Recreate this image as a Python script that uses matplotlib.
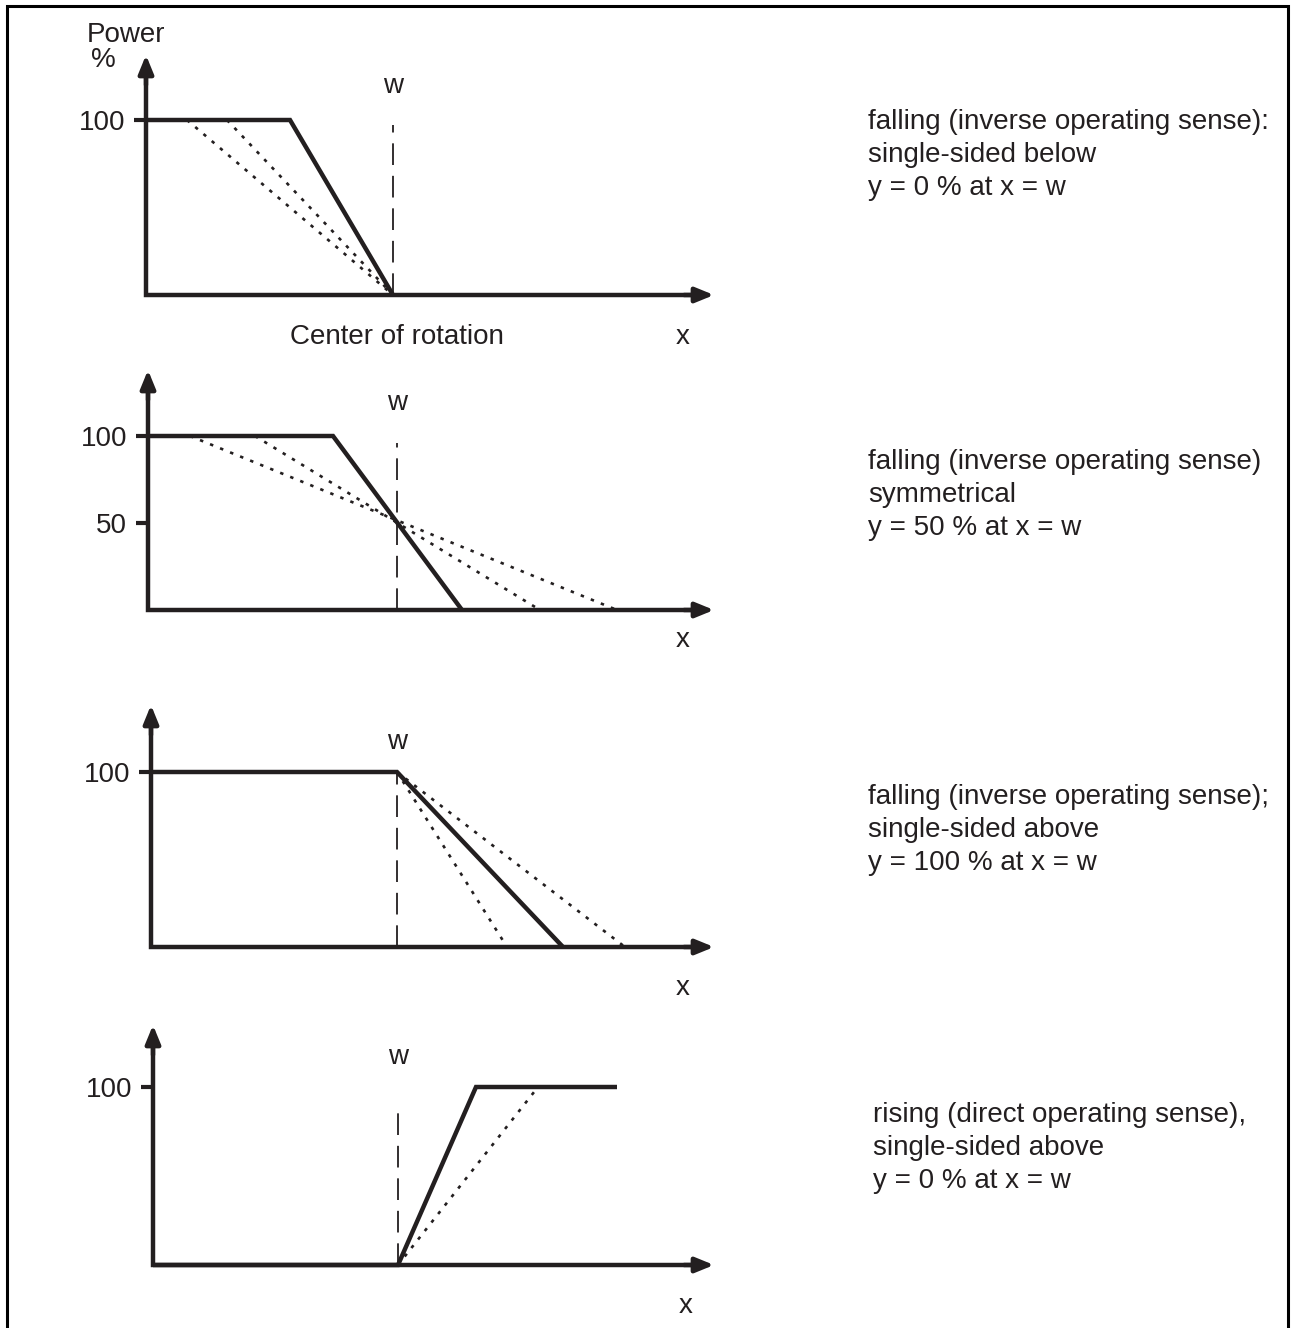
import matplotlib
matplotlib.use("Agg")
import matplotlib.pyplot as plt
from matplotlib.patches import Rectangle

plt.rcParams['font.family'] = ['Liberation Sans', 'DejaVu Sans']

W, H = 1291, 1328
DPI = 100

# ---- data (x: distance from the power axis, arbitrary units; y: power %) ----
p1_solid_x = [0, 144, 247]
p1_solid_y = [100, 100, 0]
p1_dot_x = [[41, 247], [81, 247]]
p1_dot_y = [[100, 0], [100, 0]]
p1_w = 247

p2_solid_x = [0, 185, 314]
p2_solid_y = [100, 100, 0]
p2_dot_x = [[42, 469], [107, 392]]
p2_dot_y = [[100, 0], [100, 0]]
p2_w = 249

p3_solid_x = [0, 246, 412]
p3_solid_y = [100, 100, 0]
p3_dot_x = [[246, 356], [246, 474]]
p3_dot_y = [[100, 0], [100, 0]]
p3_w = 246

p4_solid_x = [0, 245, 323, 464]
p4_solid_y = [0, 0, 100, 100]
p4_dot_x = [[245, 385]]
p4_dot_y = [[0, 100]]
p4_w = 245

yticks_list = [[100], [50, 100], [100], [100]]

captions = [
    ["falling (inverse operating sense):", "single-sided below", "y = 0 % at x = w"],
    ["falling (inverse operating sense)", "symmetrical", "y = 50 % at x = w"],
    ["falling (inverse operating sense);", "single-sided above", "y = 100 % at x = w"],
    ["rising (direct operating sense),", "single-sided above", "y = 0 % at x = w"],
]

# ---- layout (pixels) ----
# origin x, origin y, pixel of 100 %, pixel of arrow top, x-arrow tip
layout = [
    (146, 295, 120, 55, 714),
    (148, 610, 436, 370, 714),
    (151, 947, 772, 705, 714),
    (153, 1265, 1087, 1025, 714),
]
wdash_top = [97, 96, 100, 90]
w_label_px = [86, 403, 742, 1057]
x_label_px = [(683, 337), (683, 640), (683, 988), (686, 1306)]
caption_px = [(868, 122), (868, 462), (868, 797), (873, 1115)]
line_gap = 33

FS = 20
INK = '#231f20'
fig = plt.figure(figsize=(W / DPI, H / DPI), dpi=DPI)

panels = [
    (p1_solid_x, p1_solid_y, p1_dot_x, p1_dot_y, p1_w),
    (p2_solid_x, p2_solid_y, p2_dot_x, p2_dot_y, p2_w),
    (p3_solid_x, p3_solid_y, p3_dot_x, p3_dot_y, p3_w),
    (p4_solid_x, p4_solid_y, p4_dot_x, p4_dot_y, p4_w),
]

head = '-|>,head_length=1.1,head_width=0.45'

for i, (sx, sy, dxs, dys, wx) in enumerate(panels):
    ox, oy, p100, ptop, ptip = layout[i]
    pxper = (oy - p100) / 100.0
    ytop = (oy - ptop) / pxper
    xtip = ptip - ox
    ax = fig.add_axes([ox / W, (H - oy) / H, xtip / W, (oy - ptop) / H])
    ax.set_xlim(0, xtip)
    ax.set_ylim(0, ytop)
    for s in ax.spines.values():
        s.set_visible(False)
    ax.patch.set_visible(False)
    ax.set_xticks([])
    ax.set_yticks(yticks_list[i])
    ax.set_yticklabels([str(v) for v in yticks_list[i]], fontsize=FS, color=INK)
    ax.tick_params(axis='y', length=9, width=3, color=INK, pad=6)

    # axis lines (L shape) plus arrow heads
    ax.plot([0, 0, xtip - 15], [ytop - 15 / pxper, 0, 0], color=INK, lw=3.2,
            solid_joinstyle='miter', solid_capstyle='butt', clip_on=False)
    ax.annotate('', xy=(0, ytop), xytext=(0, ytop - 30 / pxper), annotation_clip=False,
                arrowprops=dict(arrowstyle=head, lw=3.2, color=INK, shrinkA=0, shrinkB=0))
    ax.annotate('', xy=(xtip, 0), xytext=(xtip - 30, 0), annotation_clip=False,
                arrowprops=dict(arrowstyle=head, lw=3.2, color=INK, shrinkA=0, shrinkB=0))

    ax.plot([wx, wx], [0, wdash_top[i]], color=INK, lw=1.3,
            dashes=(12, 6), clip_on=False)
    for dx, dy in zip(dxs, dys):
        ax.plot(dx, dy, color=INK, lw=1.9, dashes=(1.3, 2.8), clip_on=False)
    ax.plot(sx, sy, color=INK, lw=3.2, solid_joinstyle='miter',
            solid_capstyle='butt', clip_on=False)

    ax.text(wx, (oy - w_label_px[i]) / pxper, 'w', ha='center', va='center',
            fontsize=FS, color=INK)
    lx, ly = x_label_px[i]
    ax.text(lx - ox, (oy - ly) / pxper, 'x', ha='center', va='center',
            fontsize=FS, color=INK, clip_on=False)
    if i == 0:
        ax.text(397 - ox, (oy - 337) / pxper, 'Center of rotation', ha='center',
                va='center', fontsize=FS, color=INK)
        ax.text(126 - ox, (oy - 35) / pxper, 'Power', ha='center', va='center',
                fontsize=FS, color=INK)
        ax.text(103 - ox, (oy - 60) / pxper, '%', ha='center', va='center',
                fontsize=FS, color=INK)
    cx, cy = caption_px[i]
    for k, line in enumerate(captions[i]):
        ax.text(cx - ox, (oy - cy - k * line_gap) / pxper, line, ha='left',
                va='center', fontsize=FS, color=INK, clip_on=False)

# outer frame
fig.patches.append(Rectangle((7 / W, -0.05), (1288 - 7) / W, 1.05 - 6 / H,
                             transform=fig.transFigure, fill=False,
                             lw=2.2, edgecolor='black'))

fig.savefig('out.png', dpi=DPI)
